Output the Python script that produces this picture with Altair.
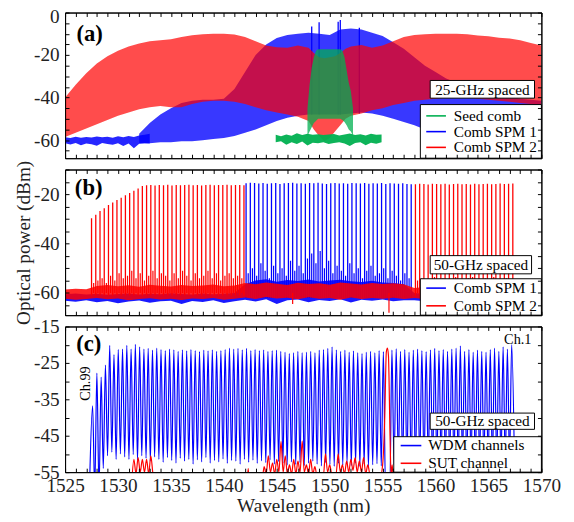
import altair as alt
import pandas as pd

FONT = "Liberation Serif"
RED, BLUE, GREEN = "#ff0000", "#0000ff", "#00b050"
W, H = 484, 148
XDOM = [1525, 1570]
X_TICKS = list(range(1525, 1571))

# ---------------- panel (a): 25-GHz spaced ----------------
a_blue_floor_wl = [1525.0, 1525.5, 1526.0, 1526.5, 1527.0, 1527.5, 1528.0, 1528.5, 1529.0,
                   1529.5, 1530.0, 1530.5, 1531.0, 1531.5, 1532.0, 1532.5, 1533.0]
a_blue_floor_hi = [-58.6, -59.0, -58.4, -58.9, -58.5, -58.8, -58.3, -58.7, -58.4, -58.9,
                   -58.2, -58.6, -58.0, -58.5, -57.8, -57.5, -57.0]
a_blue_floor_lo = [-61.5, -62.0, -61.3, -62.4, -61.6, -61.9, -62.6, -61.4, -61.8, -62.2,
                   -61.5, -62.8, -61.6, -63.8, -61.7, -61.5, -61.6]
a_blue_wl = list(range(1532, 1571))
a_blue_top = [-57, -52, -48, -45, -42.5, -41.5, -41, -41, -40.5, -36,
              -28, -20, -15, -12, -10.5, -10, -9.5, -10, -10.5, -8,
              -7.5, -8, -9.5, -11, -14, -17, -21, -25, -28, -31,
              -33, -35, -36.5, -37.5, -38.5, -39.5, -40.5, -41, -41.5]
a_blue_bot = [-61.5, -61.5, -61, -61, -60.5, -60.5, -60, -59.5, -59, -58,
              -56.5, -55, -53, -51, -49.5, -48.5, -48, -48, -48, -48,
              -47.5, -47, -47.5, -48.5, -50, -51.5, -53, -55, -56, -57,
              -57.5, -58, -58, -58.5, -58.5, -58.5, -59, -59, -59]
a_blue_spike_wl = [1548.3, 1549.0, 1550.8, 1551.0, 1552.8]
a_blue_spike_top = [-6.6, -4.6, -4.3, -3.5, -7.1]
a_blue_spike_bot = [-48, -48, -48, -48, -47.5]
a_red_wl = [1525, 1526, 1527, 1528, 1529, 1530, 1531, 1532, 1533, 1534, 1535, 1536,
            1537, 1538, 1539, 1540, 1541, 1542, 1543, 1544, 1545, 1546, 1547, 1548,
            1548.5, 1549, 1549.5, 1550, 1550.5, 1551, 1551.5,
            1552, 1553, 1554, 1555, 1556, 1557, 1558, 1559, 1560, 1561, 1562, 1563,
            1564, 1565, 1566, 1567, 1568, 1569, 1570]
a_red_top = [-40, -34, -28.5, -24, -20.5, -18, -16, -14.5, -13.5, -13, -12.5, -11.5,
             -10.7, -10.2, -10, -10, -10.3, -11.5, -13.5, -15.5, -16.3, -16.5, -15.5, -16.5,
             -19, -21, -21.5, -21, -20.5, -19, -17,
             -16, -15.3, -16.5, -15.5, -13.5, -11.5, -10.5, -10.2, -10, -10, -10, -10.2,
             -10.8, -11.2, -11.8, -12.2, -13, -14.3, -15.5]
a_red_bot = [-58.5, -56.5, -54.5, -52.5, -50.5, -48.5, -47, -45.5, -44.5, -44, -44.5, -44.5,
             -43, -42, -41.5, -41.5, -42, -43, -44.5, -46, -47, -48, -49, -51,
             -55, -58, -60.5, -59, -56, -53, -50,
             -48.5, -47.5, -46, -45, -43.5, -42.5, -41.5, -41, -40.5, -40, -40, -40,
             -40.5, -41, -41.5, -42, -42.5, -43, -43.5]
a_green_floor_wl = [1544.9, 1545.4, 1545.9, 1546.4, 1546.9, 1547.4, 1547.9, 1548.4, 1548.9,
                    1549.4, 1549.9, 1550.4, 1550.9, 1551.4, 1551.9, 1552.4, 1552.9, 1553.4,
                    1553.9, 1554.4, 1554.9]
a_green_floor_hi = [-57.5, -58.2, -57.3, -57.9, -56.8, -57.6, -57.0, -57.5, -57.2, -57.6,
                    -57.4, -57.1, -57.8, -57.3, -56.9, -57.6, -57.2, -57.8, -57.0, -57.5, -57.3]
a_green_floor_lo = [-61.0, -60.5, -62.2, -61.0, -61.8, -60.7, -62.5, -61.2, -61.5, -61.0,
                    -61.8, -61.3, -61.0, -61.6, -62.8, -61.4, -61.0, -62.4, -61.2, -61.7, -61.0]
a_green_wl = [1547.9, 1548.1, 1548.3, 1548.5, 1548.7, 1548.9, 1549.5, 1550.0, 1550.5,
              1551.0, 1551.2, 1551.4, 1551.6, 1551.8, 1552.0, 1552.2]
a_green_top = [-45, -34, -26, -21, -18, -17.3, -17.3, -17.3, -17.3, -17.3, -18, -21, -27,
               -33, -37, -45]
a_green_bot = [-58, -56, -54, -52, -51, -50, -50, -50, -50, -50, -50.5, -51.5, -53, -55,
               -56, -58]
a_names = ["Seed comb", "Comb SPM 1", "Comb SPM 2"]

# ---------------- panel (b): 50-GHz spaced ----------------
b_spacing = 0.4
b_red_L_start = 1527.5
b_red_L_peaks = [-29.7, -28.3, -26.8, -25.7, -24.4, -23.4, -22.3, -21.4, -20.4, -19.5,
                 -18.6, -17.7, -16.7, -16.4, -16.3, -16.5, -16.3, -16.4, -16.2, -16.5,
                 -16.3, -16.4, -16.3, -16.2, -16.4, -16.3, -16.5, -16.3, -16.2, -16.4,
                 -16.3, -16.3, -16.2, -16.4, -16.3, -16.3, -16.4]
b_blue_start = 1542.1
b_blue_peaks = [-15.6, -15.4, -15.5, -15.7, -15.5, -15.8, -15.6, -15.5, -15.9, -15.6,
                -15.5, -15.4, -15.7, -15.6, -15.8, -15.5, -15.6, -15.4, -15.7, -15.9,
                -15.6, -15.5, -15.7, -15.6, -15.8, -15.5, -15.6, -15.7, -15.5, -15.8,
                -15.6, -15.7, -15.5, -15.9, -15.6, -15.7, -15.8, -15.6, -15.9, -16.0]
b_red_R_start = 1558.1
b_red_R_peaks = [-16.0, -15.8, -15.9, -16.1, -15.8, -15.9, -16.0, -15.8, -16.1, -15.9,
                 -15.8, -16.0, -15.9, -16.1, -15.8, -16.0, -15.9, -15.8, -16.0, -15.9,
                 -15.7, -15.9, -15.8, -15.7]
b_band_wl = list(range(1525, 1571))
b_blue_hi = [-60.5, -60.2, -60.6, -60.3, -60.7, -60.4, -60.2, -60.6, -60.3, -60.5, -60.1, -60.4,
             -60.6, -60.2, -60.5, -60.3, -60.0,
             -56.5, -55.0, -54.5, -55.5, -54.8, -55.2, -54.6, -55.4, -55.0, -54.7, -55.3, -55.6,
             -55.1, -55.8, -56.0, -56.5,
             -60.0, -60.3, -60.1, -60.4, -60.2, -60.5, -60.3, -60.1, -60.4, -60.2, -60.5, -60.3,
             -60.4]
b_blue_lo = [-63.2, -63.6, -63.0, -63.8, -63.3, -64.2, -63.5, -63.1, -64.0, -63.4, -63.2, -64.5,
             -63.3, -63.7, -63.0, -64.1, -63.4,
             -62.8, -63.5, -62.6, -64.5, -63.0, -62.7, -63.8, -62.9, -63.3, -62.6, -63.9, -62.8,
             -63.2, -62.7, -63.4, -63.0,
             -63.0, -63.4, -62.8, -63.3, -63.1, -62.9, -63.5, -63.0, -63.2, -62.8, -63.3, -63.0,
             -62.9]
b_red_hi = [-58.6, -58.3, -58.5,
            -57.2, -56.8, -57.3, -56.9, -57.5, -56.7, -57.1, -57.4, -56.8, -57.2, -57.0, -56.6,
            -57.3, -57.0,
            -56.0, -56.5, -55.8, -56.3, -56.8, -55.9, -56.4, -56.1, -56.7, -55.8, -56.2, -56.6,
            -56.0, -56.4, -56.1, -56.5,
            -58.0, -57.6, -58.2, -57.8, -58.1, -57.5, -58.0, -57.7, -58.3, -57.9, -58.1, -57.8,
            -58.2]
b_red_lo = [-62.3, -62.8, -62.4,
            -62.0, -62.6, -62.2, -63.0, -62.4, -62.1, -62.7, -62.3, -62.9, -62.2, -62.5, -62.0,
            -62.8, -62.3,
            -61.8, -62.4, -61.6, -62.2, -61.9, -62.6, -61.7, -62.3, -62.0, -62.8, -61.8, -62.5,
            -62.0, -62.3, -61.9, -62.4,
            -62.0, -62.4, -61.8, -62.2, -62.5, -61.9, -62.3, -62.0, -62.6, -62.1, -62.4, -61.9,
            -62.2]
b_red_sec_L = [-56, -55, -54, -56, -53, -55, -52, -54, -53, -51, -54, -52, -55, -53, -51, -54,
               -52, -53, -55, -52, -54, -51, -53, -55, -52, -54, -53, -51, -54, -52, -55, -53,
               -52, -54, -53, -54]
b_blue_sec = [-52, -50, -53, -48, -51, -54, -49, -52, -50, -53, -47, -51, -49, -52, -46, -44,
              -48, -43, -50, -47, -52, -49, -51, -53, -48, -52, -50, -54, -51, -49, -53, -52,
              -50, -54, -51, -53, -55, -52, -54]
b_red_sec_R = [-55, -54, -55.5, -54.5, -53.5, -55, -54, -54.5, -55, -53.5, -54.5, -55, -54,
               -53.5, -54.5, -55, -54, -54.5, -53.5, -55, -54.5, -54, -55]
b_red_dip_wl = [1546.5, 1555.6]
b_red_dip_lo = [-64.5, -68.0]
b_names = ["Comb SPM 1", "Comb SPM 2"]

# ---------------- panel (c): WDM channels ----------------
c_start = 1527.6
c_spacing = 0.404
c_peaks = [-36.8, -27.8, -28.9, -25.6, -20.2, -22.7, -21.3, -21.2, -20.2, -21.2,
           -19.9, -20.6, -21.2, -21.0, -21.5, -20.9, -21.3, -21.6, -21.2, -21.4,
           -21.8, -21.4, -21.7, -21.3, -21.6, -21.9, -21.5, -21.7, -21.4, -21.8,
           -21.6, -21.3, -20.9, -21.2, -21.0, -21.4, -21.0, -21.6, -21.3, -21.6,
           -21.4, -21.8, -21.6, -21.5, -21.8, -22.0, -22.4, -22.2, -21.8, -22.2,
           -22.0, -21.8, -22.2, -21.5, -21.3, -21.0, -20.6, -21.4, -21.8, -21.5,
           -22.0, -21.7, -22.2, -22.4, -22.0, -21.8, -22.2, -21.6, -21.9, -60.0,
           -21.5, -21.1, -21.8, -21.3, -22.0, -21.5, -21.2, -21.6, -21.9, -21.4,
           -21.0, -21.6, -21.3, -21.8, -21.2, -20.9, -20.3, -21.8, -21.3, -22.0,
           -21.5, -21.8, -22.0, -21.3, -20.9, -21.8, -20.6, -21.2, -20.0]
c_troughs = [-60, -60, -54, -50.5, -49.5, -51.5, -50.0, -50.8, -51.5, -50.2,
             -51.8, -50.5, -51.2, -52.0, -50.8, -51.5, -52.3, -51.0, -51.8, -52.5,
             -51.2, -52.0, -51.5, -52.8, -51.6, -52.2, -51.0, -52.5, -51.8, -52.2,
             -51.4, -52.6, -51.8, -52.0, -52.8, -51.5, -52.3, -51.7, -52.6, -51.9,
             -52.4, -51.6, -52.8, -52.1, -52.6, -53.0, -52.2, -52.9, -52.4, -53.2,
             -52.5, -52.0, -52.8, -53.3, -52.4, -52.9, -53.4, -52.6, -53.1, -52.7,
             -53.2, -52.5, -53.4, -52.8, -53.6, -53.0, -52.7, -53.3, -60, -60,
             -53.0, -52.4, -53.2, -52.6, -53.4, -52.9, -52.3, -53.0, -52.6, -53.3,
             -52.8, -52.2, -53.1, -52.5, -53.0, -52.7, -52.2, -53.2, -52.6, -53.0,
             -52.4, -52.9, -52.3, -53.1, -52.6, -52.2, -52.8, -52.4]
c_sut_wl = [1531.3, 1531.5, 1531.7, 1531.9, 1532.1, 1532.3, 1532.5, 1532.7, 1532.9, 1533.1,
            1533.3, 1533.5, 1542.2, 1542.3, 1542.4, 1543.6, 1543.8, 1544.0, 1544.2, 1544.4,
            1544.6, 1544.8, 1545.0, 1545.2, 1545.4, 1545.6, 1545.8, 1546.0, 1546.2, 1546.4,
            1546.6, 1546.8, 1547.0, 1547.2, 1547.4, 1547.6, 1547.8, 1548.0, 1548.2, 1548.4,
            1548.6, 1548.8, 1549.4, 1549.6, 1549.8, 1550.0, 1550.2, 1550.6, 1550.8, 1551.0,
            1551.2, 1551.4, 1551.6, 1551.8, 1552.0, 1552.2, 1552.4, 1552.6, 1552.8, 1553.0,
            1553.2, 1553.4, 1553.6, 1553.8, 1554.8, 1555.0, 1555.2, 1555.35, 1555.45, 1555.55,
            1555.7, 1555.8, 1555.9, 1556.0]
c_sut_v = [-58, -51.5, -55.5, -51, -55, -51.5, -55, -51.5, -55.5, -50.5,
           -55.5, -58, -58, -54, -58, -58, -53.5, -55.5, -50.5, -55,
           -52.5, -55.5, -51.5, -55, -46.6, -55, -50.5, -55.5, -53, -55.5,
           -51.5, -55.5, -52, -55, -46.5, -55, -53, -55.5, -51.5, -55.5,
           -53.5, -56, -56, -50, -55, -53, -55.5, -55.5, -50, -55,
           -53, -55.5, -52, -55, -51.5, -54.5, -51, -55, -52, -55,
           -51, -55.5, -53, -55.5, -56, -53, -40, -22, -20.9, -23,
           -45, -56, -53, -56]
c_names = ["WDM channels", "SUT channel"]


# ---------------- helpers ----------------
def grid(start, n, step, offset=0.0):
    return [round(start + step * (i + offset), 3) for i in range(n)]


def x_axis(orient, labels):
    kw = dict(orient=orient, values=X_TICKS, grid=False, tickSize={"expr": "-4"},
              tickColor="black", tickWidth=1, domainColor="black", domainWidth=1,
              labelOverlap=False, labelFlush=False, zindex=2)
    if labels:
        kw.update(labels=True, labelExpr="datum.value % 5 === 0 ? '' + datum.value : ''",
                  labelPadding=9, labelFont=FONT, labelFontSize=19.5, labelColor="#222",
                  title="Wavelength (nm)", titleFont=FONT, titleFontSize=19.5,
                  titleFontWeight="normal", titleColor="#222", titlePadding=1)
    else:
        kw.update(labels=False, title=None, minExtent=0, maxExtent=0)
    return alt.Axis(**kw)


def y_axis(orient, vals, labvals, title=None):
    kw = dict(orient=orient, values=vals, grid=False, tickSize={"expr": "-4"},
              tickColor="black", tickWidth=1, domainColor="black", domainWidth=1,
              labelOverlap=False, zindex=2)
    if labvals:
        kw.update(labels=True,
                  labelExpr="indexof(" + str(labvals) + ", datum.value) >= 0 ? '' + datum.value : ''",
                  labelOffset={"condition": {"test": "datum.value === 0", "value": 4}, "value": 0},
                  labelPadding=10, labelFont=FONT, labelFontSize=19.5, labelColor="#222")
    else:
        kw.update(labels=False, minExtent=0, maxExtent=0)
    if title:
        kw.update(title=title, titleFont=FONT, titleFontSize=19.5, titleFontWeight="normal",
                  titleColor="#222", titlePadding=0)
    else:
        kw.update(title=None)
    return alt.Axis(**kw)


def xenc(axis=None):
    return alt.X("wl:Q", scale=alt.Scale(domain=XDOM, nice=False, zero=False), axis=axis)


def yenc(field, dom, axis=None):
    return alt.Y(field + ":Q", scale=alt.Scale(domain=dom, nice=False, zero=False), axis=axis)


def axes_layers(data, yfield, dom, yvals, labvals, xlabels, ytitle=None):
    l1 = alt.Chart(data).mark_point(opacity=0, size=1).encode(
        x=xenc(x_axis("bottom", xlabels)), y=yenc(yfield, dom, y_axis("left", yvals, labvals, ytitle)))
    l2 = alt.Chart(data).mark_point(opacity=0, size=1).encode(
        x=xenc(x_axis("top", False)), y=yenc(yfield, dom, y_axis("right", yvals, [])))
    return [l1, l2]


def band(data, dom, color, opacity=1.0, lo="lo", hi="hi"):
    return alt.Chart(data).mark_area(color=color, opacity=opacity, clip=True).encode(
        x=xenc(), y=yenc(lo, dom), y2=alt.Y2(hi + ":Q"))


def rules(data, dom, color, width=1.2, opacity=1.0):
    return alt.Chart(data).mark_rule(color=color, strokeWidth=width, opacity=opacity, clip=True).encode(
        x=xenc(), y=yenc("lo", dom), y2=alt.Y2("hi:Q"))


def text_layer(txt, x, y, size, weight="normal", angle=0, align="center"):
    return alt.Chart(pd.DataFrame({"t": [txt]})).mark_text(
        font=FONT, fontSize=size, fontWeight=weight, angle=angle, align=align,
        baseline="middle", color="black").encode(x=alt.value(x), y=alt.value(y), text="t:N")


def box_layer(x1, x2, y1, y2):
    return alt.Chart(pd.DataFrame({"b": [0]})).mark_rect(
        fill="white", stroke="black", strokeWidth=1).encode(
        x=alt.value(x1), x2=alt.value(x2), y=alt.value(y1), y2=alt.value(y2))


def legend_layers(names, colors, box, line_x, text_x, rows):
    out = [box_layer(*box)]
    for name, col, yy in zip(names, colors, rows):
        out.append(alt.Chart(pd.DataFrame({"s": [name]})).mark_rule(
            color=col, strokeWidth=1.6).encode(
            x=alt.value(line_x[0]), x2=alt.value(line_x[1]), y=alt.value(yy)))
        out.append(text_layer(name, text_x, yy, 15.5, align="left"))
    return out


# ---------------- panel (a) ----------------
DA = [-68.5, 0]
df_a_bfloor = pd.DataFrame({"wl": a_blue_floor_wl, "lo": a_blue_floor_lo, "hi": a_blue_floor_hi})
df_a_blue = pd.DataFrame({"wl": a_blue_wl, "lo": a_blue_bot, "hi": a_blue_top})
df_a_bspk = pd.DataFrame({"wl": a_blue_spike_wl, "lo": a_blue_spike_bot, "hi": a_blue_spike_top})
df_a_red = pd.DataFrame({"wl": a_red_wl, "lo": a_red_bot, "hi": a_red_top})
df_a_gfloor = pd.DataFrame({"wl": a_green_floor_wl, "lo": a_green_floor_lo, "hi": a_green_floor_hi})
df_a_green = pd.DataFrame({"wl": a_green_wl, "lo": a_green_bot, "hi": a_green_top})

panel_a = alt.layer(
    *axes_layers(df_a_red, "hi", DA, list(range(0, -70, -5)), [0, -20, -40, -60], False),
    band(df_a_bfloor, DA, BLUE, 0.85),
    band(df_a_blue, DA, BLUE, 0.78),
    rules(df_a_bspk, DA, BLUE, 1.3),
    band(df_a_red, DA, RED, 0.7),
    band(df_a_gfloor, DA, GREEN, 0.95),
    band(df_a_green, DA, GREEN, 0.75),
    *legend_layers(a_names, [GREEN, BLUE, RED], (361, 484, 93.5, 148), (367, 387), 395,
                   [105, 121, 137]),
    box_layer(371, 477, 69, 87),
    text_layer("25-GHz spaced", 424, 78.5, 15.5),
    text_layer("(a)", 25, 22, 23, "bold"),
).resolve_axis(x="independent", y="independent").properties(width=W, height=H)

# ---------------- panel (b) ----------------
DB = [-69, -10]
df_b_bband = pd.DataFrame({"wl": b_band_wl, "lo": b_blue_lo, "hi": b_blue_hi})
df_b_rband = pd.DataFrame({"wl": b_band_wl, "lo": b_red_lo, "hi": b_red_hi})
df_b_blue = pd.DataFrame({"wl": grid(b_blue_start, len(b_blue_peaks), b_spacing),
                          "lo": [-62.0] * len(b_blue_peaks), "hi": b_blue_peaks})
df_b_bsec = pd.DataFrame({"wl": grid(b_blue_start, len(b_blue_sec), b_spacing, 0.5),
                          "lo": [-62.0] * len(b_blue_sec), "hi": b_blue_sec})
df_b_redL = pd.DataFrame({"wl": grid(b_red_L_start, len(b_red_L_peaks), b_spacing),
                          "lo": [-61.0] * len(b_red_L_peaks), "hi": b_red_L_peaks})
df_b_redR = pd.DataFrame({"wl": grid(b_red_R_start, len(b_red_R_peaks), b_spacing),
                          "lo": [-61.0] * len(b_red_R_peaks), "hi": b_red_R_peaks})
df_b_rsecL = pd.DataFrame({"wl": grid(b_red_L_start, len(b_red_sec_L), b_spacing, 0.5),
                           "lo": [-60.0] * len(b_red_sec_L), "hi": b_red_sec_L})
df_b_rsecR = pd.DataFrame({"wl": grid(b_red_R_start, len(b_red_sec_R), b_spacing, 0.5),
                           "lo": [-60.0] * len(b_red_sec_R), "hi": b_red_sec_R})
df_b_rdip = pd.DataFrame({"wl": b_red_dip_wl, "lo": b_red_dip_lo, "hi": [-60.0] * len(b_red_dip_wl)})

panel_b = alt.layer(
    *axes_layers(df_b_bband, "hi", DB, list(range(-10, -70, -5)), [-20, -40, -60], False,
                 "Optical power (dBm)"),
    band(df_b_bband, DB, BLUE, 0.9),
    rules(df_b_bsec, DB, BLUE, 1.2),
    rules(df_b_blue, DB, BLUE, 1.3),
    band(df_b_rband, DB, RED, 0.85),
    rules(df_b_rdip, DB, RED, 1.2),
    rules(df_b_rsecL, DB, RED, 1.2),
    rules(df_b_rsecR, DB, RED, 1.2),
    rules(df_b_redL, DB, RED, 1.3),
    rules(df_b_redR, DB, RED, 1.3),
    *legend_layers(b_names, [BLUE, RED], (361, 484, 111, 148), (367, 387), 395,
                   [120.5, 138.5]),
    box_layer(371, 474, 87.5, 106),
    text_layer("50-GHz spaced", 422.5, 97, 15.5),
    text_layer("(b)", 24, 19, 23, "bold"),
).resolve_axis(x="independent", y="independent").properties(width=W, height=H)

# ---------------- panel (c) ----------------
DC = [-55, -15]
c_wl, c_v = [round(c_start - 0.3, 3)], [-60.0]
for i, p in enumerate(c_peaks):
    c_wl.append(round(c_start + c_spacing * i, 3))
    c_v.append(p)
    if i < len(c_troughs):
        c_wl.append(round(c_start + c_spacing * (i + 0.5), 3))
        c_v.append(c_troughs[i])
c_wl.append(round(c_start + c_spacing * (len(c_peaks) - 1) + 0.3, 3))
c_v.append(-60.0)
df_c = pd.concat([
    pd.DataFrame({"wl": c_wl, "v": c_v, "s": c_names[0], "o": range(len(c_wl))}),
    pd.DataFrame({"wl": c_sut_wl, "v": c_sut_v, "s": c_names[1], "o": range(len(c_sut_wl))}),
])

line_c = alt.Chart(df_c).mark_line(strokeWidth=1.2, clip=True, interpolate="monotone").encode(
    x=xenc(), y=yenc("v", DC), order="o:Q",
    color=alt.Color("s:N", scale=alt.Scale(domain=c_names, range=[BLUE, RED]), legend=None))

panel_c = alt.layer(
    *axes_layers(df_c, "v", DC, list(range(-15, -60, -5)), [-15, -25, -35, -45, -55], True),
    line_c,
    *legend_layers(c_names, [BLUE, RED], (334, 484, 112, 148), (341, 362), 369, [121, 139]),
    box_layer(371, 477, 88, 104.5),
    text_layer("50-GHz spaced", 424, 96.5, 15.5),
    text_layer("(c)", 24, 18, 23, "bold"),
    text_layer("Ch.99", 21, 58, 14.5, angle=270),
    text_layer("Ch.1", 460, 14, 14.5),
).resolve_axis(x="independent", y="independent").properties(width=W, height=H)

chart = alt.vconcat(panel_a, panel_b, panel_c, spacing=11.5, bounds="flush").properties(
    padding={"left": 5, "top": -6.5, "right": 5, "bottom": 0}
).configure_view(stroke="black", strokeWidth=1)

chart.save("out.html", embed_options={"renderer": "svg", "actions": False})
